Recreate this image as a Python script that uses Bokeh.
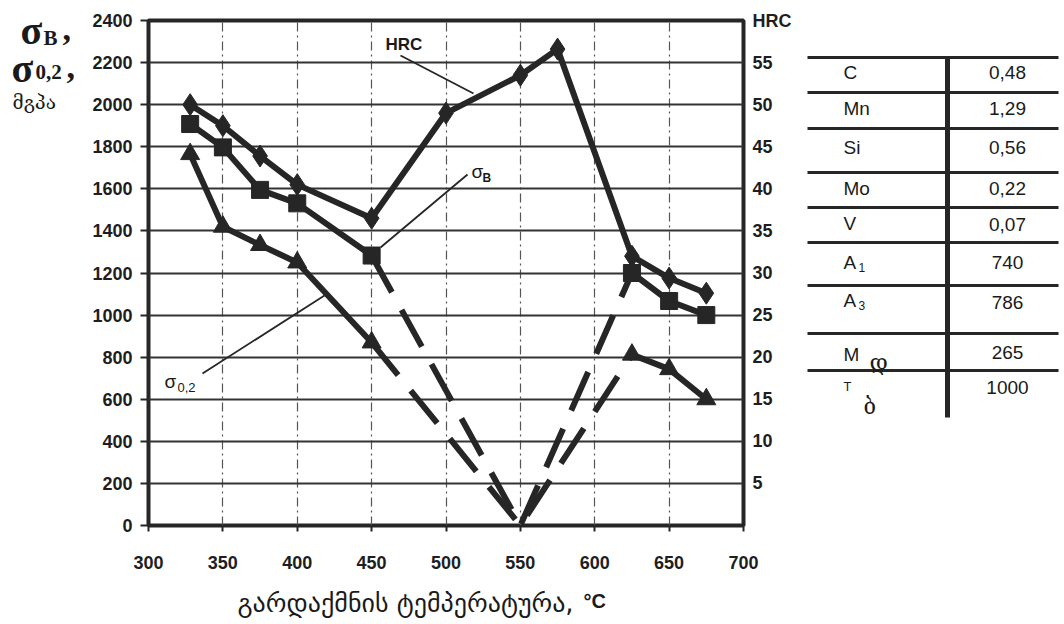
from bokeh.plotting import figure
from bokeh.models import Range1d, LinearAxis, Label, FixedTicker
from bokeh.layouts import row, column
from bokeh.embed import file_html
from bokeh.resources import INLINE

# ---------------- data ----------------
temp_hrc = [328, 350, 375, 400, 450, 500, 550, 575, 625, 650, 675]
hrc = [50.0, 47.5, 43.9, 40.5, 36.5, 49.0, 53.5, 56.6, 32.0, 29.4, 27.6]

temp_left = [328, 350, 375, 400, 450]
temp_right = [625, 650, 675]
sb_left = [1908, 1797, 1595, 1531, 1283]
sb_right = [1200, 1067, 1000]
s02_left = [1765, 1420, 1333, 1250, 870]
s02_right = [812, 743, 600]

temp_dash = [450, 550, 625]
sb_dash = [1283, 0, 1200]
s02_dash = [870, 0, 812]

x_ticks = [300, 350, 400, 450, 500, 550, 600, 650, 700]
y_ticks = [0, 200, 400, 600, 800, 1000, 1200, 1400, 1600, 1800, 2000, 2200, 2400]
hrc_ticks = [5, 10, 15, 20, 25, 30, 35, 40, 45, 50, 55, 60]

table_labels = ["C", "Mn", "Si", "Mo", "V", "A", "A", "M", "T"]
table_subs = ["", "", "", "", "", "1", "3", "დ", "ბ"]
table_values = ["0,48", "1,29", "0,56", "0,22", "0,07", "740", "786", "265", "1000"]

x_title = "გარდაქმნის  ტემპერატურა,"
x_unit = "°C"
y_unit = "მგპა"

# ---------------- layout helpers (page pixels) ----------------
W, H = 1064, 624
FL, FR, FT, FB = 148, 743, 20, 525          # plot frame edges
LW = 80                                     # width of left title panel
TL = 798                                    # left edge of table panel
MAIN_H = 575                                # height of the top row
X0, X1, Y0, Y1 = 300, 700, 0, 2400

INK = "#262626"
SANS = "Liberation Sans"
SERIF = "Liberation Serif"


def dx(X):
    return X0 + (X - FL) * (X1 - X0) / (FR - FL)


def dy(Y):
    return Y0 + (FB - Y) * (Y1 - Y0) / (FB - FT)


def panel(x0, x1, y0, y1, top=0, bottom=0):
    f = figure(width=x1 - x0, height=y1 - y0 + top + bottom,
               x_range=Range1d(x0, x1), y_range=Range1d(y1, y0),
               output_backend="svg", toolbar_location=None, min_border=0,
               min_border_top=top, min_border_bottom=bottom,
               x_axis_type=None, y_axis_type=None)
    f.outline_line_color = None
    f.grid.visible = False
    return f


def lab(fig, x, y, txt, size, font=SANS, style="normal", align="left", base="middle"):
    fig.add_layout(Label(x=x, y=y, text=txt, text_font=font,
                         text_font_size=f"{size}px", text_font_style=style,
                         text_align=align, text_baseline=base, text_color="#1a1a1a"))


# ---------------- main chart ----------------
p = figure(frame_width=FR - FL, frame_height=FB - FT,
           min_border_left=FL - LW, min_border_right=TL - FR,
           min_border_top=FT, min_border_bottom=MAIN_H - FB,
           x_range=Range1d(X0, X1), y_range=Range1d(Y0, Y1),
           output_backend="svg", toolbar_location=None)
p.extra_y_ranges = {"hrc": Range1d(0, 60)}

p.outline_line_color = INK
p.outline_line_width = 4

p.ygrid.ticker = FixedTicker(ticks=y_ticks)
p.ygrid.grid_line_color = "#333333"
p.ygrid.grid_line_width = 2
p.xgrid.ticker = FixedTicker(ticks=x_ticks)
p.xgrid.grid_line_color = "#555555"
p.xgrid.grid_line_width = 1.2
p.xgrid.grid_line_dash = "9 4 2 4"

for ax in (p.xaxis[0], p.yaxis[0]):
    ax.axis_line_color = None
    ax.minor_tick_line_color = None
    ax.major_tick_line_color = INK
    ax.major_tick_line_width = 2
    ax.major_tick_in = 0
    ax.major_label_text_font = SANS
    ax.major_label_text_font_size = "18px"
    ax.major_label_text_font_style = "bold"
    ax.major_label_text_color = "#1e1e1e"

p.xaxis.ticker = FixedTicker(ticks=x_ticks)
p.xaxis.major_tick_out = 6
p.xaxis.major_label_standoff = 24
p.yaxis.ticker = FixedTicker(ticks=y_ticks)
p.yaxis.major_tick_out = 8
p.yaxis.major_label_standoff = 8

rax = LinearAxis(y_range_name="hrc", ticker=FixedTicker(ticks=hrc_ticks),
                 major_label_overrides={60: "HRC"})
rax.axis_line_color = None
rax.major_tick_line_color = None
rax.minor_tick_line_color = None
rax.major_tick_out = 0
rax.major_tick_in = 0
rax.major_label_standoff = 9
rax.major_label_text_font = SANS
rax.major_label_text_font_size = "18px"
rax.major_label_text_font_style = "bold"
rax.major_label_text_color = "#1e1e1e"
p.add_layout(rax, "right")

# dashed (extrapolated) parts
p.line(temp_dash, sb_dash, line_color=INK, line_width=6, line_dash="42 20")
p.line(temp_dash, s02_dash, line_color=INK, line_width=6, line_dash="42 20")

# sigma_B
p.line(temp_left, sb_left, line_color=INK, line_width=6)
p.line(temp_right, sb_right, line_color=INK, line_width=6)
p.scatter(temp_left + temp_right, sb_left + sb_right, marker="square", size=17,
          fill_color=INK, line_color=INK)

# sigma_0.2
p.line(temp_left, s02_left, line_color=INK, line_width=6)
p.line(temp_right, s02_right, line_color=INK, line_width=6)
p.scatter(temp_left + temp_right, s02_left + s02_right, marker="triangle", size=19,
          fill_color=INK, line_color=INK)

# HRC
p.line(temp_hrc, hrc, y_range_name="hrc", line_color=INK, line_width=6)
p.scatter(temp_hrc, hrc, y_range_name="hrc", marker="diamond", size=22,
          fill_color=INK, line_color=INK)

# leader lines for curve names
leaders = [((400, 55), (473, 93)), ((467, 174), (380, 247)), ((202, 373), (324, 295))]
for (a, b) in leaders:
    p.line([dx(a[0]), dx(b[0])], [dy(a[1]), dy(b[1])], line_color=INK, line_width=1.8)

lab(p, dx(385), dy(44), "HRC", 17, style="bold")
lab(p, dx(471), dy(171), "σ", 19)
lab(p, dx(482), dy(177), "B", 12, style="bold")
lab(p, dx(164), dy(381), "σ", 19)
lab(p, dx(177), dy(387), "0,2", 13)

# ---------------- left title panel ----------------
L = panel(0, LW, FT, FB, top=FT, bottom=MAIN_H - FB)
lab(L, 20, 30, "σ", 40, font=SERIF, style="bold", base="alphabetic")
lab(L, 43, 37, "B", 21, font=SERIF, style="bold", base="alphabetic")
lab(L, 62, 28, ",", 34, font=SERIF, style="bold", base="alphabetic")
lab(L, 11, 68, "σ", 40, font=SERIF, style="bold", base="alphabetic")
lab(L, 35, 71, "0,2", 21, font=SERIF, style="bold", base="alphabetic")
lab(L, 66, 66, ",", 34, font=SERIF, style="bold", base="alphabetic")
lab(L, 12, 101, y_unit, 19, font="DejaVu Serif")

# ---------------- composition table ----------------
T = panel(TL, W, FT, FB, top=FT, bottom=MAIN_H - FB)
row_lines = [57, 92, 128, 172, 207, 242, 285, 333, 370]
T.segment(x0=[807] * len(row_lines), y0=row_lines, x1=[1058] * len(row_lines), y1=row_lines,
          line_color=INK, line_width=3)
T.segment(x0=[947], y0=[57], x1=[947], y1=[417], line_color=INK, line_width=5)

label_y = [72, 108, 147, 188, 223, 262, 300, 354, 386]
value_y = [72, 108, 147, 188, 224, 262, 302, 352, 387]
for i, (lb, sb, vv) in enumerate(zip(table_labels, table_subs, table_values)):
    size = 13 if lb == "T" else 19
    lab(T, 843, label_y[i], lb, size)
    if sb in ("1", "3"):
        lab(T, 858, label_y[i] + 5, sb, 12)
    elif sb == "დ":
        lab(T, 869, label_y[i] + 8, sb, 22, font="DejaVu Serif")
    elif sb:
        lab(T, 863, label_y[i] + 20, sb, 22, font="DejaVu Serif")
    lab(T, 1007, value_y[i], vv, 19, align="center")

# ---------------- x axis title panel ----------------
B = panel(0, W, MAIN_H, H)
lab(B, 237, 602, x_title, 26, font="DejaVu Sans", align="left")
lab(B, 583, 600, x_unit, 20, font=SANS, style="bold", align="left")

layout = column(row(L, p, T), B)
open("out.html", "w").write(file_html(layout, INLINE))
